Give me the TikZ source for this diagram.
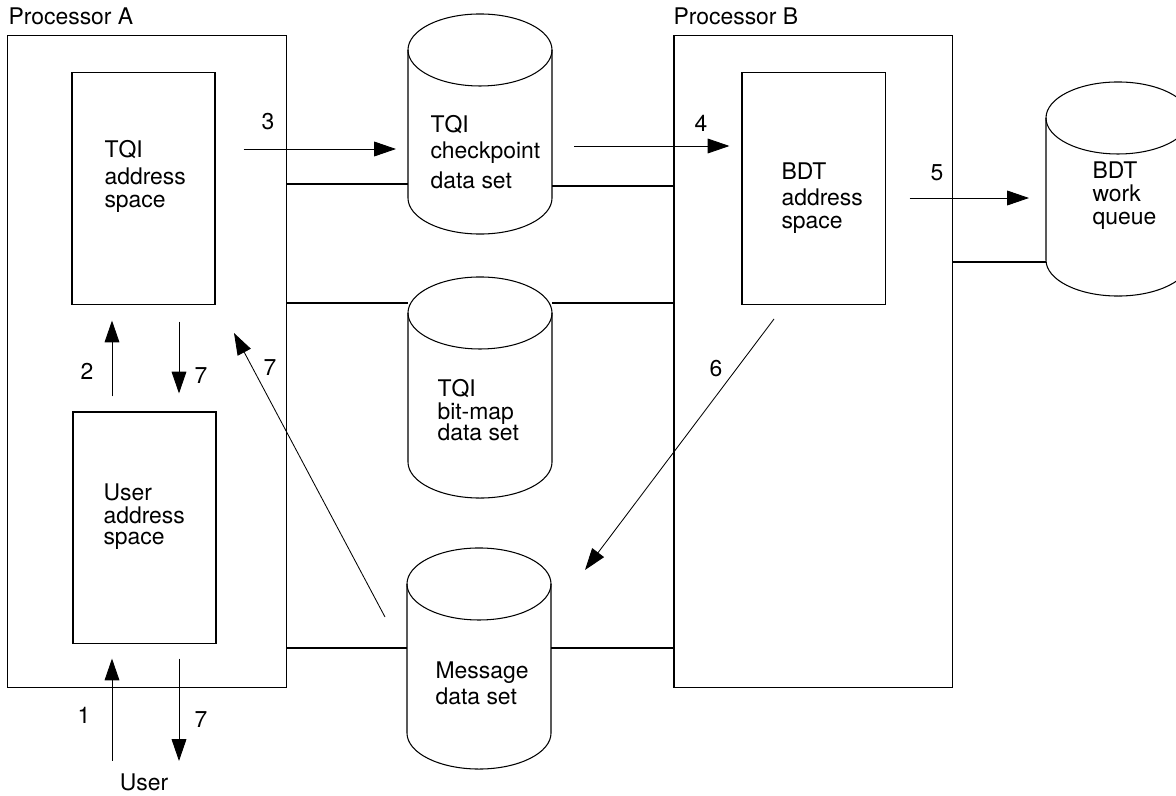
\documentclass[tikz,border=0pt]{standalone}
\usepackage{fontspec}
\setmainfont{TeX Gyre Heros}
\usetikzlibrary{arrows.meta}

\begin{document}
\begin{tikzpicture}[x=0.025cm,y=-0.025cm,line width=0.75pt,
    font=\fontsize{16.3}{16.4}\selectfont,
    flow/.style={line width=0.6pt,-{Triangle[length=15.5pt,width=10.5pt]}}]

  \useasboundingbox (0,0) rectangle (1176,795);

  % processors and address spaces
  \begin{scope}[every node/.style={rectangle,draw,inner sep=0pt}]
    \node (procA) at (147,361.5)   [minimum width=6.95cm,minimum height=16.275cm] {};
    \node (procB) at (813,361.5)   [minimum width=6.95cm,minimum height=16.275cm] {};
    \node (tqi)   at (143.5,188.5) [minimum width=3.575cm,minimum height=5.775cm] {};
    \node (bdt)   at (813.5,188.5) [minimum width=3.575cm,minimum height=5.775cm] {};
    \node (usr)   at (144.5,527.5) [minimum width=3.575cm,minimum height=5.775cm] {};
  \end{scope}

  % data sets
  \begin{scope}[every node/.style={inner sep=0pt,outer sep=0pt,minimum width=3.6cm}]
    \node (ckpt)   at (480,124)    [minimum height=5.5cm] {};
    \node (bitmap) at (480,387.5)  [minimum height=5.525cm] {};
    \node (msg)    at (479,658.5)  [minimum height=5.525cm] {};
    \node (queue)  at (1118,189)   [minimum height=5.35cm] {};
  \end{scope}

  \foreach \c in {ckpt,bitmap,msg,queue}{
    \draw ([yshift=-0.9cm]\c.north west) -- ([yshift=0.9cm]\c.south west)
      arc[start angle=180,end angle=360,x radius=1.8cm,y radius=0.9cm]
      -- ([yshift=-0.9cm]\c.north east);
    \draw ([yshift=-0.9cm]\c.north) ellipse[x radius=1.8cm,y radius=0.9cm];
  }

  % texts
  \begin{scope}[every node/.style={inner sep=0pt,align=left,anchor=north west}]
    \node (tqit)    at (104,139.6)  {TQI\\[3pt]address\\space};
    \node (bdtt)    at (781,162.6)  {BDT\\[1.5pt]address\\space};
    \node (usrt)    at (103,483.6)  {User\\address\\[-1.5pt]space};
    \node (ckptt)   at (430,114.6)  {TQI\\[2pt]checkpoint\\[5.5pt]data set};
    \node (bitmapt) at (437,378.6)  {TQI\\bit-map\\[-1pt]data set};
    \node (msgt)    at (435,661.6)  {Message\\[2pt]data set};
    \node (queuet)  at (1092,161.6) {BDT\\work\\queue};
  \end{scope}

  \begin{scope}[every node/.style={inner sep=0pt,anchor=base}]
    \node (procAt) at (8,25)   [anchor=base west] {Processor A};
    \node (procBt) at (673,25) [anchor=base west] {Processor B};
    \node (user) at (144,790)  {User};
    \node (n1)  at (84,723)  {1};
    \node (n2)  at (87,379)  {2};
    \node (n3)  at (268,130) {3};
    \node (n4)  at (701,132) {4};
    \node (n5)  at (937,180) {5};
    \node (n6)  at (716,376) {6};
    \node (n7a) at (201,383) {7};
    \node (n7b) at (270,375) {7};
    \node (n7c) at (201,727) {7};
  \end{scope}

  % links between processors and data sets
  \draw (procA.east |- 0,184) -- (ckpt.west |- 0,184);
  \draw (ckpt.east |- 0,186)  -- (procB.west |- 0,186);
  \draw (procA.east |- 0,303) -- (bitmap.west |- 0,303);
  \draw (bitmap.east |- 0,303) -- (procB.west |- 0,303);
  \draw (procA.east |- 0,648) -- (msg.west |- 0,648);
  \draw (msg.east |- 0,648)   -- (procB.west |- 0,648);
  \draw (procB.east |- 0,262) -- (queue.west |- 0,262);

  % flow
  \coordinate (s6) at (774,319);
  \coordinate (e6) at (585,570);
  \coordinate (s7) at (385,617);
  \coordinate (e7) at (234,333);

  \draw[flow,shorten <=0.295cm,shorten >=0.375cm] (user.north -| 112,0) -- (usr.south -| 112,0);
  \draw[flow,shorten <=0.375cm,shorten >=0.4cm]   (usr.north -| 112,0) -- (tqi.south -| 112,0);
  \draw[flow,shorten <=0.7cm,shorten >=0.3cm]     (tqi.east |- 0,149) -- (ckpt.west |- 0,149);
  \draw[flow,shorten <=0.55cm,shorten >=0.3cm]    (ckpt.east |- 0,146) -- (bdt.west |- 0,146);
  \draw[flow,shorten <=0.6cm,shorten >=0.425cm]   (bdt.east |- 0,198) -- (queue.west |- 0,198);
  \draw[flow] (s6) -- (e6);
  \draw[flow] (s7) -- (e7);
  \draw[flow,shorten <=0.425cm,shorten >=0.45cm]  (tqi.south -| 179,0) -- (usr.north -| 179,0);
  \draw[flow,shorten <=0.375cm,shorten >=0.295cm] (usr.south -| 179,0) -- (user.north -| 179,0);

\end{tikzpicture}
\end{document}
